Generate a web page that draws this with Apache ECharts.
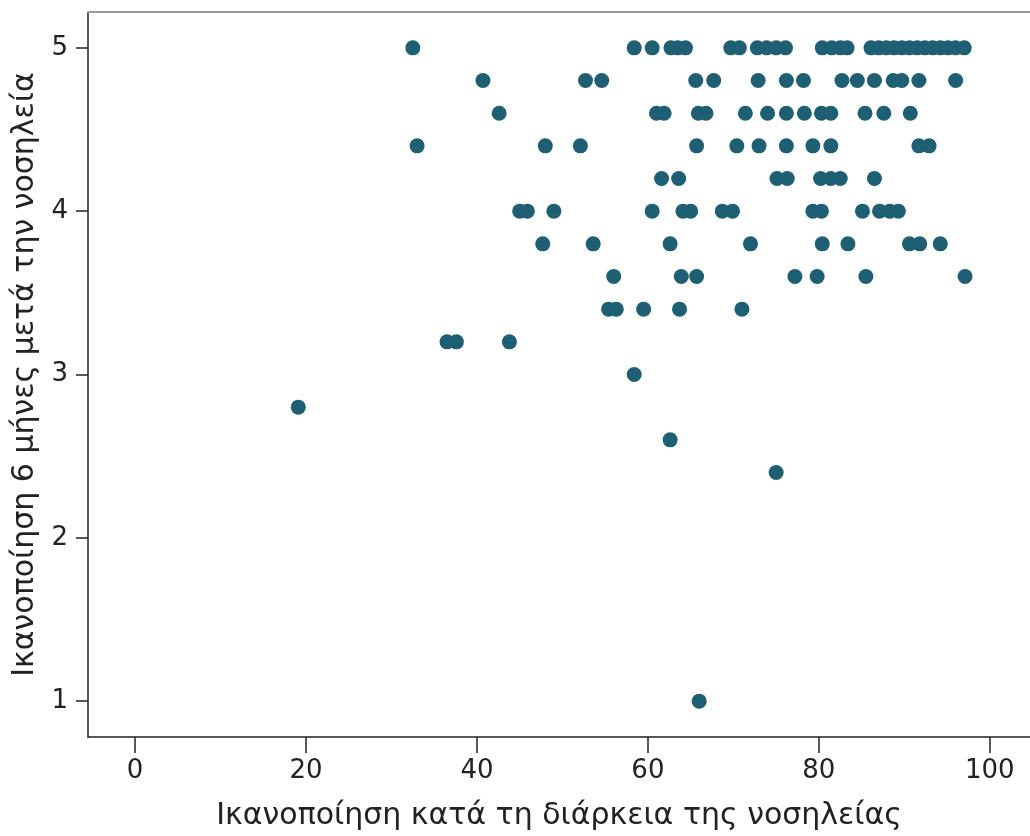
<!DOCTYPE html>
<html>
<head>
<meta charset="utf-8">
<script src="https://cdn.jsdelivr.net/npm/echarts@6/dist/echarts.min.js"></script>
<style>
html,body{margin:0;padding:0;background:#fff;}
#chart{width:1030px;height:836px;}
</style>
</head>
<body>
<div id="chart"></div>
<script>
// x values per row of y (satisfaction 6 months after)
const row50 = [32.5, 58.4, 60.5, 62.7, 63.5, 64.4, 69.7, 70.7, 72.8, 73.9, 75.0, 76.1, 80.4, 81.5, 82.5, 83.3, 86.1, 87.0, 87.9, 88.8, 89.7, 90.6, 91.5, 92.4, 93.3, 94.2, 95.1, 96.0, 97.0];
const row48 = [40.7, 52.7, 54.6, 65.6, 67.7, 72.9, 76.2, 78.2, 82.7, 84.5, 86.5, 88.7, 89.7, 91.7, 96.0];
const row46 = [42.6, 61.0, 61.9, 65.9, 66.8, 71.4, 74.0, 76.2, 78.3, 80.3, 81.4, 85.4, 87.6, 90.7];
const row44 = [33.0, 48.0, 52.1, 65.7, 70.4, 73.0, 76.2, 79.3, 81.4, 91.7, 92.9];
const row42 = [61.6, 63.6, 75.1, 76.3, 80.2, 81.4, 82.5, 86.5];
const row40 = [45.0, 45.9, 49.0, 60.5, 64.1, 65.0, 68.7, 69.9, 79.3, 80.3, 85.1, 87.1, 88.3, 89.3];
const row38 = [47.7, 53.6, 62.6, 72.0, 80.4, 83.4, 90.6, 91.8, 94.2];
const row36 = [56.0, 63.9, 65.7, 77.2, 79.8, 85.5, 97.1];
const row34 = [55.4, 56.3, 59.5, 63.7, 71.0];
const row32 = [36.5, 37.6, 43.8];
const row30 = [58.4];
const row28 = [19.1];
const row26 = [62.6];
const row24 = [75.0];
const row10 = [66.0];

const rowLevels = [5.0, 4.8, 4.6, 4.4, 4.2, 4.0, 3.8, 3.6, 3.4, 3.2, 3.0, 2.8, 2.6, 2.4, 1.0];
const rows = [row50, row48, row46, row44, row42, row40, row38, row36, row34, row32, row30, row28, row26, row24, row10];

const xTicks = [0, 20, 40, 60, 80, 100];
const yTicks = [1, 2, 3, 4, 5];
const xTitle = 'Ικανοποίηση κατά τη διάρκεια της νοσηλείας';
const yTitle = 'Ικανοποίηση 6 μήνες μετά την νοσηλεία';

const points = [];
rows.forEach((r, i) => r.forEach(x => points.push([x, rowLevels[i]])));

const FONT = 'DejaVu Sans';
const chart = echarts.init(document.getElementById('chart'), null, {renderer: 'canvas'});
chart.setOption({
  backgroundColor: '#ffffff',
  animation: false,
  grid: {left: 88, top: 12, right: 0, bottom: 96, containLabel: false},
  xAxis: [{
    type: 'value', min: -5.5, max: 104.7,
    name: xTitle, nameLocation: 'middle', nameGap: 64,
    nameTextStyle: {fontFamily: FONT, fontSize: 30, color: '#222'},
    axisLine: {show: true, onZero: false, lineStyle: {color: '#222', width: 1.5}},
    axisTick: {show: true, length: 16, customValues: xTicks, lineStyle: {color: '#222', width: 1.5}},
    axisLabel: {customValues: xTicks, fontFamily: FONT, fontSize: 26, color: '#222', margin: 21},
    splitLine: {show: false}
  }, {
    type: 'value', position: 'top', min: -5.5, max: 104.7,
    axisLine: {show: true, onZero: false, lineStyle: {color: '#999', width: 2}},
    axisTick: {show: false}, axisLabel: {show: false}, splitLine: {show: false}
  }],
  yAxis: {
    type: 'value', min: 0.7805, max: 5.2195,
    name: yTitle, nameLocation: 'middle', nameGap: 42, nameRotate: 90,
    nameTextStyle: {fontFamily: FONT, fontSize: 30, color: '#222'},
    axisLine: {show: true, onZero: false, lineStyle: {color: '#222', width: 1.5}},
    axisTick: {show: true, length: 12, customValues: yTicks, lineStyle: {color: '#222', width: 1.5}},
    axisLabel: {customValues: yTicks, fontFamily: FONT, fontSize: 26, color: '#222', margin: 20},
    splitLine: {show: false}
  },
  series: [{
    type: 'scatter',
    data: points,
    symbol: 'circle',
    symbolSize: 15,
    itemStyle: {color: '#1e5f74', opacity: 1},
    emphasis: {disabled: true}
  }]
});
</script>
</body>
</html>
